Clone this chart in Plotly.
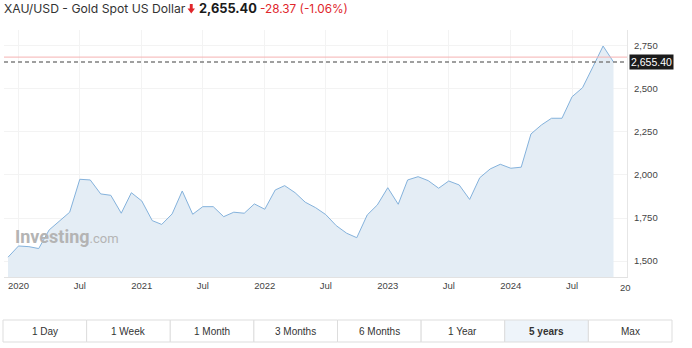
import plotly.graph_objects as go
import pandas as pd

# ---------------- data ----------------
months = pd.date_range("2019-12-01", "2024-11-01", freq="MS")
prices = [1523, 1588, 1584, 1573, 1681, 1729, 1784, 1975, 1971, 1890, 1882, 1778, 1897,
          1849, 1735, 1713, 1774, 1907, 1772, 1816, 1816, 1758, 1784, 1778, 1832,
          1801, 1913, 1938, 1897, 1842, 1810, 1770, 1706, 1662, 1636, 1768, 1826,
          1926, 1830, 1971, 1990, 1967, 1923, 1965, 1942, 1858, 1984, 2035, 2062,
          2039, 2045, 2238, 2290, 2329, 2329, 2454, 2506, 2628, 2748, 2655.40]
LAST = 2655.40
CHANGE = -28.37
CHANGE_PCT = -1.06
TITLE = "XAU/USD - Gold Spot US Dollar"

x_tick_dates = ["2020-01-01", "2020-07-01", "2021-01-01", "2021-07-01", "2022-01-01",
                "2022-07-01", "2023-01-01", "2023-07-01", "2024-01-01", "2024-07-01"]
x_tick_text = ["2020", "Jul", "2021", "Jul", "2022", "Jul", "2023", "Jul", "2024", "Jul"]
y_ticks = [1500, 1750, 2000, 2250, 2500, 2750]
range_buttons = ["1 Day", "1 Week", "1 Month", "3 Months", "6 Months", "1 Year", "5 years", "Max"]
active_button = "5 years"

# ---------------- layout geometry ----------------
W, H = 692, 348
L, R, T, B = 4, 65, 30, 71
PW, PH = W - L - R, H - T - B
PB = H - B


def px(x):
    return (x - L) / PW


def py(y):
    return (PB - y) / PH


TICK_FONT = "Liberation Sans, Arial, sans-serif"
TITLE_FONT = "Inter, Roboto, sans-serif"

fig = go.Figure()
fig.add_trace(go.Scatter(
    x=months, y=prices, mode="lines",
    line=dict(color="#84b2dc", width=1),
    fill="tozeroy", fillcolor="#e4edf5",
    hoverinfo="skip",
))

shapes = []
annotations = []

# previous close line and last price dashed line
prev_close = LAST - CHANGE
shapes.append(dict(type="line", xref="paper", yref="y", x0=0, x1=1, y0=prev_close, y1=prev_close,
                   line=dict(color="#f5b3b3", width=1)))
shapes.append(dict(type="line", xref="paper", yref="y", x0=0, x1=1, y0=LAST, y1=LAST,
                   line=dict(color="#808080", width=1.3, dash="4px,3px")))
annotations.append(dict(xref="paper", yref="y", x=px(629), y=LAST, xanchor="left", yanchor="middle",
                        text=f"{LAST:,.2f}", showarrow=False, bgcolor="#1b1b1b", borderpad=1,
                        font=dict(family=TICK_FONT, size=10.5, color="white")))

# title pieces
annotations.append(dict(xref="paper", yref="paper", x=px(2), y=py(9), xanchor="left", yanchor="middle",
                        text=TITLE, showarrow=False,
                        font=dict(family=TITLE_FONT, size=12.2, color="#333333")))
# red down arrow icon
ax0, ax1, ay_top, ay_mid, ay_bot = 187.5, 195, 4, 8.5, 13.5
sx0, sx1 = 189.8, 192.7
arrow_path = (f"M {px(sx0)},{py(ay_top)} L {px(sx1)},{py(ay_top)} L {px(sx1)},{py(ay_mid)} "
              f"L {px(ax1)},{py(ay_mid)} L {px((ax0 + ax1) / 2)},{py(ay_bot)} L {px(ax0)},{py(ay_mid)} "
              f"L {px(sx0)},{py(ay_mid)} Z")
shapes.append(dict(type="path", xref="paper", yref="paper", path=arrow_path,
                   fillcolor="#e0262b", line=dict(width=0)))
annotations.append(dict(xref="paper", yref="paper", x=px(197), y=py(9), xanchor="left", yanchor="middle",
                        text=f"<b>{LAST:,.2f}</b>", showarrow=False,
                        font=dict(family=TITLE_FONT, size=12.8, color="#1a1a1a")))
annotations.append(dict(xref="paper", yref="paper", x=px(258), y=py(9), xanchor="left", yanchor="middle",
                        text=f"{CHANGE:.2f} ({CHANGE_PCT:.2f}%)", showarrow=False,
                        font=dict(family=TITLE_FONT, size=11.8, color="#e0262b")))

# watermark
annotations.append(dict(xref="paper", yref="paper", x=px(13), y=py(236), xanchor="left", yanchor="middle",
                        text="<b>Investing</b><span style='font-size:13px;font-weight:normal'>.com</span>",
                        showarrow=False,
                        font=dict(family="Roboto, sans-serif", size=18, color="#b4b4b4")))

# clipped label at the right of the x axis
annotations.append(dict(xref="paper", yref="paper", x=px(618), y=py(287), xanchor="left", yanchor="middle",
                        text="20", showarrow=False,
                        font=dict(family=TICK_FONT, size=9.5, color="#444444")))

# range buttons
bx0, bx1, by0, by1 = 3, 672, 320, 342
bw = (bx1 - bx0) / len(range_buttons)
for i, lab in enumerate(range_buttons):
    x0 = bx0 + i * bw
    active = lab == active_button
    shapes.append(dict(type="rect", xref="paper", yref="paper",
                       x0=px(x0), x1=px(x0 + bw), y0=py(by1), y1=py(by0),
                       fillcolor="#eef4fa" if active else "white",
                       line=dict(color="#dddddd", width=1), layer="below"))
    annotations.append(dict(xref="paper", yref="paper", x=px(x0 + bw / 2), y=py((by0 + by1) / 2),
                            xanchor="center", yanchor="middle", showarrow=False,
                            text=f"<b>{lab}</b>" if active else lab,
                            font=dict(family=TICK_FONT, size=10, color="#333333")))

fig.update_layout(
    width=W, height=H,
    margin=dict(l=L, r=R, t=T, b=B),
    paper_bgcolor="white", plot_bgcolor="white",
    showlegend=False,
    shapes=shapes, annotations=annotations,
    xaxis=dict(type="date", range=["2019-11-19", "2024-12-11"],
               tickvals=x_tick_dates, ticktext=x_tick_text,
               showgrid=True, gridcolor="#f3f3f3", gridwidth=1,
               showline=True, linecolor="#e2e2e2", ticks="",
               tickfont=dict(family=TICK_FONT, size=9.5, color="#444444"),
               fixedrange=True),
    yaxis=dict(side="right", range=[1408, 2841], tickvals=y_ticks, tickformat=",",
               showgrid=True, gridcolor="#f3f3f3", zeroline=False,
               showline=True, linecolor="#e6e6e6", ticks="", ticklabelstandoff=4,
               tickfont=dict(family=TICK_FONT, size=9.5, color="#444444"),
               fixedrange=True),
)

fig.write_html("out.html")
